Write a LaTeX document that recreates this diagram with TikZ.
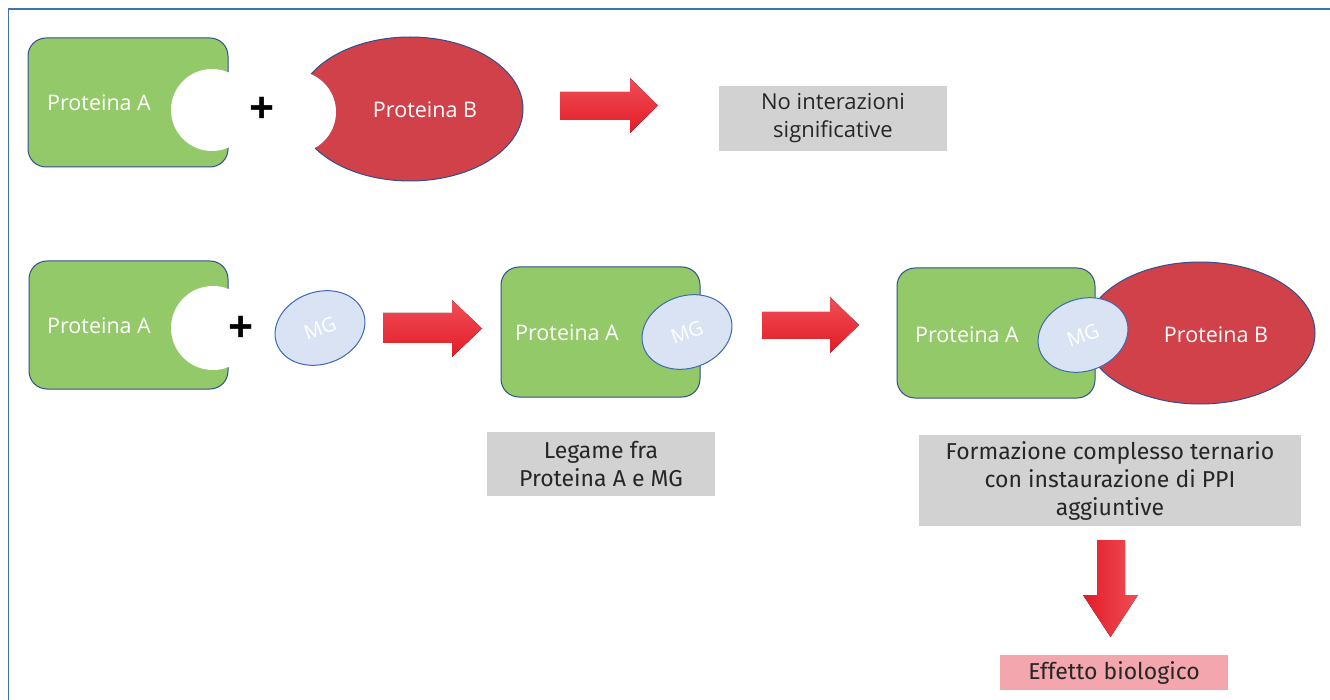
\documentclass[tikz,border=0pt]{standalone}
\usepackage{fontspec}
\setmainfont{Open Sans}
\newfontfamily\boxfont{Fira Sans}
\usetikzlibrary{shapes.geometric}
\definecolor{protgreen}{RGB}{148,201,106}
\definecolor{protred}{RGB}{209,65,74}
\definecolor{outl}{RGB}{47,80,140}
\definecolor{mgfill}{RGB}{218,227,243}
\definecolor{mgline}{RGB}{60,105,180}
\definecolor{greybox}{RGB}{210,210,210}
\definecolor{pinkbox}{RGB}{244,166,174}
\definecolor{framecol}{RGB}{64,114,175}
\definecolor{arrtop}{RGB}{240,78,88}
\definecolor{arrbot}{RGB}{226,28,38}
\tikzset{
  protA/.style={draw=outl, line width=1pt, fill=protgreen, rounded corners=18pt, inner sep=0pt},
  protB/.style={ellipse, draw=outl, line width=1pt, fill=protred, inner sep=0pt},
  notch/.style={circle, fill=white, inner sep=0pt},
  mg/.style={ellipse, draw=mgline, line width=1pt, fill=mgfill, inner sep=0pt, minimum width=92pt, minimum height=72pt, rotate=20, text=white, font=\fontsize{20}{22}\selectfont},
  plab/.style={text=white, font=\fontsize{21.5}{24}\selectfont},
  plus/.style={font=\fontsize{44}{44}\selectfont\bfseries},
  infobox/.style={fill=greybox, inner sep=0pt, align=center, text=black!85, font=\boxfont\fontsize{23}{28}\selectfont},
  blockarrow/.style={top color=arrtop, bottom color=arrbot, draw=none},
  blockarrowv/.style={left color=arrbot, right color=arrtop, draw=none},
}
\begin{document}
\begin{tikzpicture}[x=1pt,y=-1pt]
\useasboundingbox (0,0) rectangle (1330,700);
% frame
\draw[framecol, line width=1.6pt] (8.5,700) -- (8.5,9) -- (1330,9);

% ---------- Row 1 ----------
\node[protA, minimum width=200pt, minimum height=129pt] (a1) at (128,102.5) {};
\node[protB, minimum width=226pt, minimum height=144pt] (b1) at (410,109) {};
\node[notch, minimum size=82pt] (n1) at (212,110) {};
\node[notch, minimum size=82pt] (n2) at (295,112) {};
\node[plab] (a1l) at (99,103) {Proteina A};
\node[plab] (b1l) at (425,110) {Proteina B};
\node[plus] (p1) at (262,110) {+};
\fill[blockarrow] (560,92) -- (630,92) -- (630,78) -- (658,105.5) -- (630,133) -- (630,120) -- (560,120) -- cycle;
\node[infobox, minimum width=228pt, minimum height=65pt, font=\fontsize{22}{28}\selectfont] (r1) at (833,118.5) {No interazioni\\significative};

% ---------- Row 2 ----------
\node[protA, minimum width=199pt, minimum height=128pt] (a2) at (128.5,325) {};
\node[notch, minimum size=84pt] (n3) at (213,328) {};
\node[plab] (a2l) at (99,326) {Proteina A};
\node[plus] (p2) at (241,329) {+};
\node[mg] (mg1) at (320,328) {MG};
\fill[blockarrow] (383,313) -- (452,313) -- (452,300) -- (482,328.5) -- (452,357) -- (452,343) -- (383,343) -- cycle;

\node[protA, minimum width=199pt, minimum height=130pt] (a3) at (600.5,332) {};
\node[plab] (a3l) at (567,333) {Proteina A};
\node[mg] (mg2) at (687,332) {MG};
\fill[blockarrow] (762,312) -- (830,312) -- (830,297) -- (859,325) -- (830,353) -- (830,339) -- (762,339) -- cycle;

\node[protB, minimum width=230pt, minimum height=142pt] (b3) at (1200,333) {};
\node[protA, minimum width=198pt, minimum height=130pt] (a4) at (996,333) {};
\node[plab] (a4l) at (967,335) {Proteina A};
\node[plab] (b3l) at (1216,335) {Proteina B};
\node[mg] (mg3) at (1083,335) {MG};

\node[infobox, minimum width=228pt, minimum height=64pt] (r2) at (601,464) {Legame fra\\Proteina A e MG};
\node[infobox, minimum width=382pt, minimum height=91pt] (r3) at (1110,480.5) {Formazione complesso ternario\\con instaurazione di PPI\\aggiuntive};
\fill[blockarrowv] (1097,540) -- (1125,540) -- (1125,595) -- (1138,595) -- (1110.5,637) -- (1083,595) -- (1097,595) -- cycle;
\node[infobox, fill=pinkbox, minimum width=228pt, minimum height=35pt] (r4) at (1114,672.5) {Effetto biologico};
\end{tikzpicture}
\end{document}
